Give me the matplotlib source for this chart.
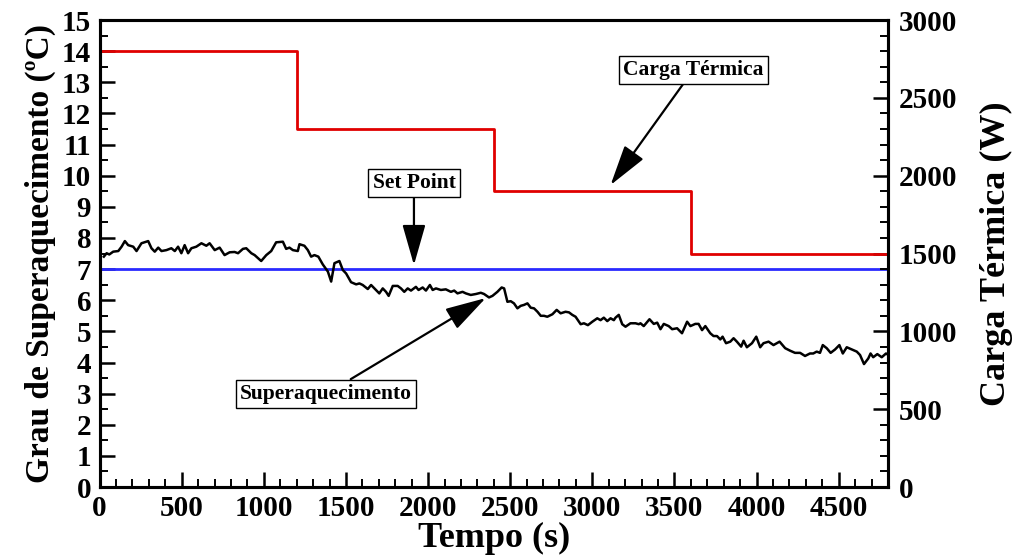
import matplotlib
matplotlib.use("Agg")
from matplotlib import pyplot as plt
from matplotlib.ticker import MultipleLocator

plt.rcParams['font.family'] = ['Liberation Serif', 'DejaVu Serif']
plt.rcParams['font.weight'] = 'bold'

# Superaquecimento (ºC)
t_sh = [26, 43, 59, 83, 114, 134, 154, 174, 205, 225, 255, 296, 316, 336, 357, 377,
        407, 437, 458, 478, 498, 518, 539, 559, 589, 620, 650, 670, 701, 731, 761, 792,
        822, 843, 873, 893, 924, 944, 984, 1015, 1045, 1075, 1116, 1136, 1156, 1177,
        1207, 1217, 1247, 1268, 1288, 1308, 1332, 1359, 1390, 1410, 1430, 1460, 1481,
        1501, 1531, 1562, 1582, 1602, 1633, 1653, 1683, 1703, 1724, 1744, 1760, 1785,
        1815, 1835, 1855, 1876, 1896, 1926, 1942, 1967, 1987, 2011, 2028, 2048, 2078,
        2108, 2139, 2159, 2179, 2210, 2230, 2260, 2291, 2321, 2341, 2371, 2392, 2422,
        2448, 2463, 2483, 2503, 2523, 2544, 2564, 2584, 2605, 2625, 2645, 2666, 2686,
        2706, 2726, 2757, 2783, 2807, 2837, 2858, 2878, 2898, 2929, 2949, 2973, 3000,
        3030, 3050, 3070, 3091, 3111, 3131, 3141, 3161, 3182, 3202, 3232, 3263, 3283,
        3293, 3313, 3348, 3374, 3395, 3415, 3435, 3465, 3486, 3516, 3546, 3577, 3597,
        3627, 3647, 3668, 3688, 3718, 3738, 3759, 3779, 3793, 3814, 3840, 3860, 3880,
        3906, 3921, 3941, 3972, 3998, 4022, 4042, 4073, 4103, 4140, 4174, 4204, 4234,
        4265, 4295, 4325, 4345, 4366, 4386, 4403, 4427, 4451, 4478, 4504, 4525, 4549,
        4579, 4610, 4630, 4654, 4680, 4694, 4710, 4735, 4762, 4788, 4812]
superaq = [7.40, 7.51, 7.47, 7.56, 7.58, 7.72, 7.90, 7.77, 7.72, 7.58, 7.83, 7.90, 7.67,
           7.56, 7.69, 7.58, 7.61, 7.67, 7.58, 7.72, 7.51, 7.77, 7.51, 7.67, 7.72, 7.83,
           7.75, 7.83, 7.61, 7.69, 7.45, 7.54, 7.55, 7.51, 7.65, 7.67, 7.51, 7.45, 7.26,
           7.45, 7.58, 7.86, 7.88, 7.65, 7.69, 7.61, 7.58, 7.80, 7.75, 7.61, 7.40, 7.45,
           7.40, 7.15, 6.92, 6.60, 7.19, 7.26, 6.97, 6.86, 6.58, 6.51, 6.54, 6.49, 6.36,
           6.49, 6.33, 6.22, 6.38, 6.27, 6.14, 6.46, 6.46, 6.38, 6.27, 6.38, 6.31, 6.43,
           6.33, 6.41, 6.31, 6.49, 6.33, 6.38, 6.33, 6.35, 6.27, 6.31, 6.22, 6.27, 6.22,
           6.17, 6.20, 6.24, 6.20, 6.09, 6.14, 6.27, 6.41, 6.38, 5.95, 5.97, 5.90, 5.74,
           5.82, 5.85, 5.90, 5.76, 5.74, 5.63, 5.50, 5.50, 5.47, 5.55, 5.69, 5.58, 5.63,
           5.61, 5.53, 5.47, 5.23, 5.26, 5.20, 5.31, 5.42, 5.36, 5.44, 5.33, 5.42, 5.36,
           5.44, 5.53, 5.23, 5.15, 5.26, 5.26, 5.23, 5.26, 5.17, 5.39, 5.24, 5.28, 5.07,
           5.24, 5.17, 5.07, 5.10, 4.94, 5.31, 5.17, 5.24, 5.24, 5.04, 5.17, 4.94, 4.85,
           4.85, 4.74, 4.83, 4.62, 4.67, 4.78, 4.67, 4.51, 4.70, 4.49, 4.62, 4.83, 4.49,
           4.62, 4.67, 4.56, 4.67, 4.46, 4.38, 4.31, 4.31, 4.21, 4.29, 4.29, 4.35, 4.31,
           4.56, 4.46, 4.31, 4.42, 4.56, 4.29, 4.49, 4.42, 4.35, 4.24, 3.95, 4.13, 4.29,
           4.17, 4.27, 4.17, 4.29, 4.21]

# Set point
t_sp = [0, 4800]
setpoint = [7, 7]

# Carga termica (W), step profile
t_carga = [0, 1200, 1200, 2400, 2400, 3600, 3600, 4800]
carga = [2800, 2800, 2300, 2300, 1900, 1900, 1500, 1500]

fig = plt.figure(figsize=(10.16, 5.56), dpi=100)
ax = fig.add_axes([0.098, 0.124, 0.776, 0.840])
ax2 = ax.twinx()

ax.plot(t_sp, setpoint, color='#2a2aff', lw=2.0, zorder=2)
ax.plot(t_sh, superaq, color='black', lw=1.8, zorder=3)
ax2.plot(t_carga, carga, color='#e00000', lw=2.0)

ax.set_xlim(0, 4800)
ax.set_ylim(0, 15)
ax2.set_ylim(0, 3000)

ax.xaxis.set_major_locator(MultipleLocator(500))
ax.xaxis.set_minor_locator(MultipleLocator(100))
ax.yaxis.set_major_locator(MultipleLocator(1))
ax.yaxis.set_minor_locator(MultipleLocator(0.5))
ax2.yaxis.set_major_locator(MultipleLocator(500))
ax2.yaxis.set_minor_locator(MultipleLocator(100))

for a in (ax, ax2):
    a.tick_params(which='major', direction='in', length=11, width=1.8, labelsize=21)
    a.tick_params(which='minor', direction='in', length=6, width=1.4)
    for s in a.spines.values():
        s.set_linewidth(2.2)
ax.tick_params(axis='both', which='both', pad=6)
ax2.tick_params(axis='y', which='both', pad=8)

ax.set_xlabel('Tempo (s)', fontsize=26, fontweight='bold', labelpad=0)
ax.set_ylabel('Grau de Superaquecimento (ºC)', fontsize=24, fontweight='bold', labelpad=4)
ax2.set_ylabel('Carga Térmica (W)', fontsize=26, fontweight='bold', labelpad=16)

box = dict(boxstyle='square,pad=0.2', fc='white', ec='black', lw=1.0)
arrow = dict(arrowstyle='-|>,head_length=1.4,head_width=0.4', color='black', lw=1.6,
             mutation_scale=18, shrinkA=0, shrinkB=0)
ax.annotate('Carga Térmica', xy=(3111, 9.70), xytext=(3615, 13.40), fontsize=15.5,
            fontweight='bold', ha='center', va='center', bbox=box, arrowprops=arrow)
ax.annotate('Set Point', xy=(1914, 7.13), xytext=(1914, 9.77), fontsize=15.5,
            fontweight='bold', ha='center', va='center', bbox=box, arrowprops=arrow)
ax.annotate('Superaquecimento', xy=(2351, 6.07), xytext=(1379, 2.99), fontsize=15.5,
            fontweight='bold', ha='center', va='center', bbox=box, arrowprops=arrow)

fig.savefig('out.png', dpi=100)
